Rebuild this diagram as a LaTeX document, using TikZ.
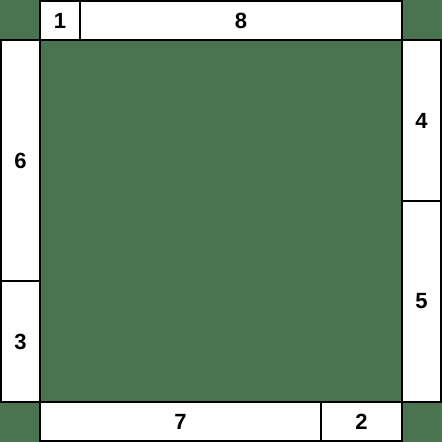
\documentclass[tikz,border=0pt]{standalone}
\usepackage{fontspec}
\setmainfont{Liberation Sans}
\definecolor{felt}{HTML}{4A7350}
\begin{document}
\begin{tikzpicture}[x=1pt,y=-1pt,
  tile/.style={draw=black,line width=2pt,fill=white,inner sep=0pt,
    font=\bfseries\fontsize{22}{22}\selectfont}]
 \useasboundingbox (0,0) rectangle (442,442);
 \fill[felt](0,0) rectangle (442,442);
 \node[draw=black,line width=2pt,fill=felt,minimum size=362pt,inner sep=0pt](field) at (221,221){};
 % top
 \node[tile,minimum width=40pt,minimum height=39pt](t1) at (60,20.5){1};
 \node[tile,minimum width=322pt,minimum height=39pt](t8) at (241,20.5){8};
 % left
 \node[tile,minimum width=39pt,minimum height=241pt](t6) at (20.5,160.5){6};
 \node[tile,minimum width=39pt,minimum height=121pt](t3) at (20.5,341.5){3};
 % right
 \node[tile,minimum width=39pt,minimum height=161pt](t4) at (421.5,120.5){4};
 \node[tile,minimum width=39pt,minimum height=201pt](t5) at (421.5,301.5){5};
 % bottom
 \node[tile,minimum width=281pt,minimum height=39pt](t7) at (180.5,421.5){7};
 \node[tile,minimum width=81pt,minimum height=39pt](t2) at (361.5,421.5){2};
\end{tikzpicture}
\end{document}
